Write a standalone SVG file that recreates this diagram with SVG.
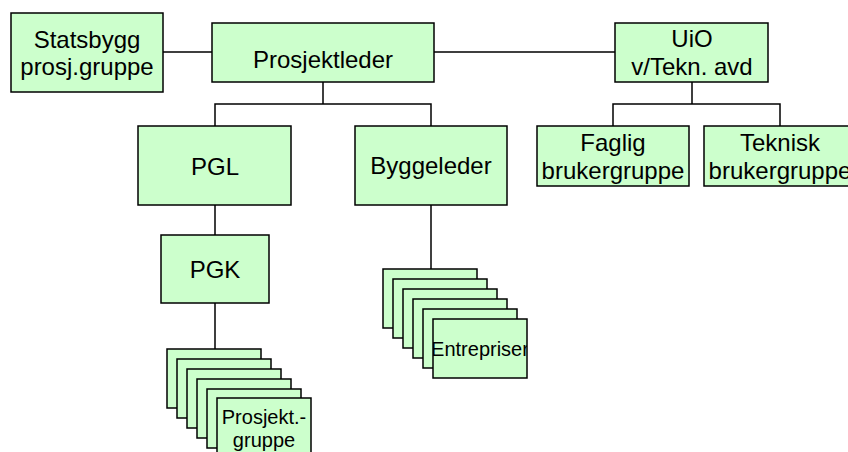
<svg xmlns="http://www.w3.org/2000/svg" width="848" height="452" viewBox="0 0 848 452">
<defs>
<style>
.box{fill:#CCFFCC;stroke:#000;stroke-width:1.5}
.t{font-family:"Liberation Sans",Arial,sans-serif;font-size:24px;fill:#000;text-anchor:middle}
.s{font-family:"Liberation Sans",Arial,sans-serif;font-size:20px;fill:#000;text-anchor:middle}
.ln{fill:none;stroke:#000;stroke-width:1.5}
</style>
<clipPath id="cE"><rect x="433" y="319" width="94" height="59"/></clipPath>
</defs>
<rect width="848" height="452" fill="#fff"/>
<g id="connectors">
<path class="ln" d="M163 52H212M434 52H615"/>
<path class="ln" d="M323 82V104M215 126V104H431V126"/>
<path class="ln" d="M692 82V104M613 126V104H780V126"/>
<path class="ln" d="M215 205V235M215 303V349"/>
<path class="ln" d="M431 205V269"/>
</g>
<g id="statsbygg">
<rect class="box" x="11" y="13" width="152" height="79"/>
<text class="t" x="87" y="48">Statsbygg</text>
<text class="t" x="87" y="75">prosj.gruppe</text>
</g>
<g id="prosjektleder">
<rect class="box" x="212" y="23" width="222" height="59"/>
<text class="t" x="323" y="68">Prosjektleder</text>
</g>
<g id="uio">
<rect class="box" x="615" y="23" width="153" height="59"/>
<text class="t" x="692" y="47">UiO</text>
<text class="t" x="692" y="75">v/Tekn. avd</text>
</g>
<g id="faglig">
<rect class="box" x="537" y="126" width="152" height="60"/>
<text class="t" x="613" y="151">Faglig</text>
<text class="t" x="613" y="179">brukergruppe</text>
</g>
<g id="teknisk">
<rect class="box" x="704" y="126" width="152" height="60"/>
<text class="t" x="780" y="151">Teknisk</text>
<text class="t" x="780" y="179">brukergruppe</text>
</g>
<g id="pgl">
<rect class="box" x="138" y="126" width="153" height="79"/>
<text class="t" x="215" y="175">PGL</text>
</g>
<g id="byggeleder">
<rect class="box" x="355" y="126" width="152" height="79"/>
<text class="t" x="431" y="174">Byggeleder</text>
</g>
<g id="pgk">
<rect class="box" x="161" y="235" width="108" height="68"/>
<text class="t" x="215" y="278">PGK</text>
</g>
<g id="prosjektgruppe">
<rect class="box" x="167" y="349" width="94" height="59"/>
<rect class="box" x="177" y="359" width="94" height="59"/>
<rect class="box" x="187" y="369" width="94" height="59"/>
<rect class="box" x="197" y="379" width="94" height="59"/>
<rect class="box" x="207" y="389" width="94" height="59"/>
<rect class="box" x="217" y="398" width="94" height="59"/>
<text class="s" x="264" y="424">Prosjekt.-</text>
<text class="s" x="264" y="447">gruppe</text>
</g>
<g id="entrepriser">
<rect class="box" x="383" y="269" width="94" height="59"/>
<rect class="box" x="393" y="279" width="94" height="59"/>
<rect class="box" x="403" y="289" width="94" height="59"/>
<rect class="box" x="413" y="299" width="94" height="59"/>
<rect class="box" x="423" y="309" width="94" height="59"/>
<rect class="box" x="433" y="319" width="94" height="59"/>
<text class="s" x="480" y="356" clip-path="url(#cE)">Entrepriser</text>
</g>
</svg>
